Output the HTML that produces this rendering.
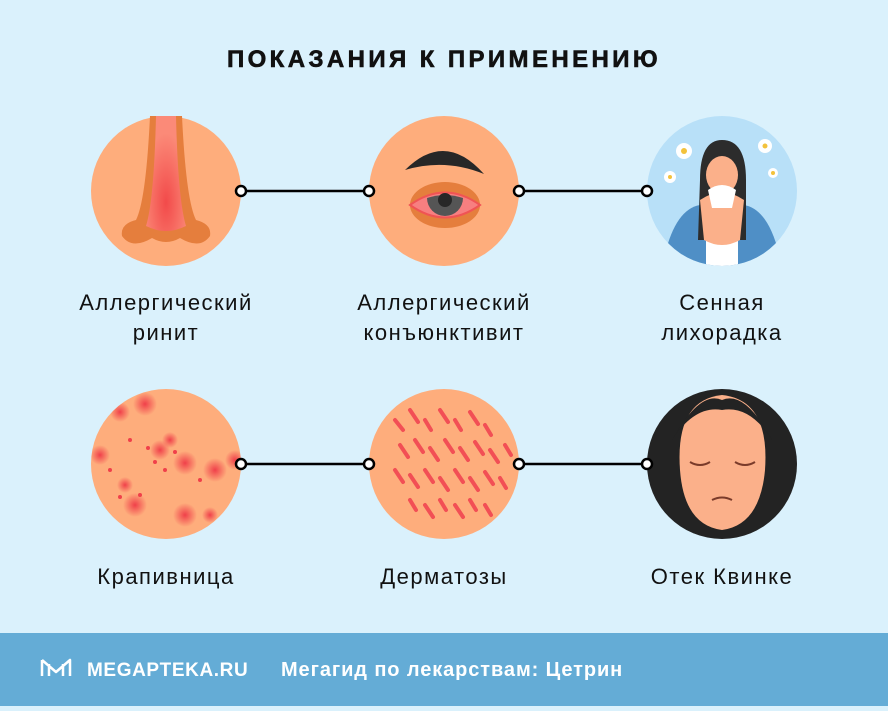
<!DOCTYPE html>
<html><head><meta charset="utf-8"><style>
body{margin:0;width:888px;height:706px;overflow:hidden;background:#daf1fc;font-family:"Liberation Sans",sans-serif}
</style></head><body>
<svg width="888" height="706" viewBox="0 0 888 706" xmlns="http://www.w3.org/2000/svg" font-family="Liberation Sans, sans-serif">
<defs>
<radialGradient id="ng" cx="0.5" cy="0.75" r="0.6"><stop offset="0" stop-color="#f24a4a"/><stop offset="1" stop-color="#fb8a78"/></radialGradient>
<radialGradient id="sp" cx="0.5" cy="0.5" r="0.5"><stop offset="0" stop-color="#f0404a"/><stop offset="1" stop-color="#f0404a" stop-opacity="0"/></radialGradient>
<clipPath id="c1"><circle cx="166" cy="464" r="75"/></clipPath>
<clipPath id="c2"><circle cx="444" cy="464" r="75"/></clipPath>
<clipPath id="c3"><circle cx="722" cy="191" r="75"/></clipPath>
</defs>
<text x="444" y="67" text-anchor="middle" font-size="24" font-weight="bold" letter-spacing="3.4" fill="#111" stroke="#111" stroke-width="0.6">ПОКАЗАНИЯ К ПРИМЕНЕНИЮ</text>
<g stroke="#000" stroke-width="2.5">
<line x1="241" y1="191" x2="369" y2="191"/><line x1="519" y1="191" x2="647" y2="191"/>
<line x1="241" y1="464" x2="369" y2="464"/><line x1="519" y1="464" x2="647" y2="464"/>
</g>
<circle cx="166" cy="191" r="75" fill="#fead7c"/>
<path d="M150 116 L182 116 Q186 200 196 220 Q212 224 210 236 Q200 250 180 238 Q166 246 152 238 Q132 250 122 236 Q120 224 136 220 Q146 200 150 116Z" fill="#e57e3d"/>
<path d="M156 116 L176 116 Q178 200 186 226 Q166 236 146 226 Q154 200 156 116Z" fill="url(#ng)"/>
<circle cx="444" cy="191" r="75" fill="#fead7c"/>
<path d="M405 170 Q445 130 484 174 Q445 158 405 170Z" fill="#272727"/>
<ellipse cx="445" cy="205" rx="35" ry="23" fill="#e57e3d"/>
<path d="M410 205 Q445 180 480 205 Q445 230 410 205Z" fill="#f77f80" stroke="#f05454" stroke-width="2"/>
<path d="M427 198 Q445 192 463 198 A18 18 0 0 1 427 198Z" fill="#555"/>
<circle cx="445" cy="200" r="7" fill="#272727"/>
<circle cx="722" cy="191" r="75" fill="#b8e0f8"/>
<g clip-path="url(#c3)">
<path d="M660 280 Q670 210 700 205 L744 205 Q774 210 784 280Z" fill="#4f8fc6"/>
<path d="M700 180 Q700 140 722 140 Q746 140 746 180 L746 240 L698 240Z" fill="#2c2c2c"/>
<path d="M706 240 L706 280 L738 280 L738 240Z" fill="#fff"/>
<ellipse cx="722" cy="175" rx="16" ry="19" fill="#fbb08a"/>
<path d="M700 200 Q722 185 744 200 L740 240 Q722 250 704 240Z" fill="#fbb08a"/>
<path d="M708 190 Q722 180 736 190 L732 208 L712 208Z" fill="#fff"/>
</g>
<g fill="#fff"><circle cx="684" cy="151" r="8"/><circle cx="765" cy="146" r="7"/><circle cx="670" cy="177" r="6"/><circle cx="773" cy="173" r="5"/></g>
<g fill="#f3c23b"><circle cx="684" cy="151" r="3"/><circle cx="765" cy="146" r="2.5"/><circle cx="670" cy="177" r="2"/><circle cx="773" cy="173" r="2"/></g>
<circle cx="166" cy="464" r="75" fill="#fead7c"/>
<g clip-path="url(#c1)" fill="url(#sp)">
<circle cx="145" cy="404" r="12"/><circle cx="120" cy="412" r="10"/><circle cx="185" cy="463" r="12"/><circle cx="215" cy="470" r="12"/><circle cx="135" cy="505" r="12"/><circle cx="185" cy="515" r="12"/><circle cx="100" cy="455" r="10"/><circle cx="235" cy="460" r="10"/><circle cx="160" cy="450" r="10"/><circle cx="210" cy="515" r="8"/><circle cx="125" cy="485" r="8"/><circle cx="170" cy="440" r="8"/>
</g>
<g clip-path="url(#c1)" fill="#f0404a"><circle cx="155" cy="462" r="2"/><circle cx="165" cy="470" r="2"/><circle cx="148" cy="448" r="2"/><circle cx="175" cy="452" r="2"/><circle cx="120" cy="497" r="2"/><circle cx="140" cy="495" r="2"/><circle cx="200" cy="480" r="2"/><circle cx="130" cy="440" r="2"/><circle cx="110" cy="470" r="2"/></g>
<circle cx="444" cy="464" r="75" fill="#fead7c"/>
<g clip-path="url(#c2)" stroke="#f24f55" stroke-width="4" stroke-linecap="round">
<path d="M395 420 l8 10 M410 410 l8 12 M425 420 l6 10 M440 410 l8 12 M455 420 l6 10 M470 412 l8 12 M485 425 l6 10 M400 445 l8 12 M415 440 l8 12 M430 448 l8 12 M445 440 l8 12 M460 448 l8 12 M475 442 l8 12 M490 450 l8 12 M505 445 l6 10 M395 470 l8 12 M410 475 l8 12 M425 470 l8 12 M440 478 l8 12 M455 470 l8 12 M470 478 l8 12 M485 472 l8 12 M500 478 l6 10 M410 500 l6 10 M425 505 l8 12 M440 500 l6 10 M455 505 l8 12 M470 500 l6 10 M485 505 l6 10"/>
</g>
<circle cx="722" cy="464" r="75" fill="#232323"/>
<path d="M680 470 Q675 400 722 395 Q770 400 765 470 Q760 525 722 530 Q684 525 680 470Z" fill="#fbb08a"/>
<path d="M672 440 Q700 390 722 400 Q745 390 772 440 Q750 405 722 410 Q695 405 672 440Z" fill="#232323"/>
<g stroke="#7a3b2a" stroke-width="2" fill="none"><path d="M690 462 Q700 468 710 462"/><path d="M735 462 Q745 468 755 462"/><path d="M712 500 Q722 495 732 500"/></g>
<g fill="#fff" stroke="#000" stroke-width="2.5">
<circle cx="241" cy="191" r="5"/><circle cx="369" cy="191" r="5"/><circle cx="519" cy="191" r="5"/><circle cx="647" cy="191" r="5"/>
<circle cx="241" cy="464" r="5"/><circle cx="369" cy="464" r="5"/><circle cx="519" cy="464" r="5"/><circle cx="647" cy="464" r="5"/>
</g>
<g font-size="22" fill="#111" text-anchor="middle" letter-spacing="1.5">
<text x="166" y="310">Аллергический</text><text x="166" y="340">ринит</text>
<text x="444" y="310">Аллергический</text><text x="444" y="340">конъюнктивит</text>
<text x="722" y="310">Сенная</text><text x="722" y="340">лихорадка</text>
<text x="166" y="584">Крапивница</text><text x="444" y="584">Дерматозы</text><text x="722" y="584">Отек Квинке</text>
</g>
<rect x="0" y="633" width="888" height="73" fill="#64acd6"/>
<path d="M42 660 L42 676 M42 660 L56 672 L70 660 L70 676 M49 664 L49 676 M63 664 L63 676" stroke="#fff" stroke-width="2.5" fill="none" stroke-linejoin="round"/>
<text x="87" y="676" font-size="19" font-weight="bold" fill="#fff" letter-spacing="0.6">MEGAPTEKA.RU</text>
<text x="281" y="676" font-size="20" font-weight="bold" fill="#fff" letter-spacing="0.9">Мегагид по лекарствам: Цетрин</text>
</svg>
</body></html>
